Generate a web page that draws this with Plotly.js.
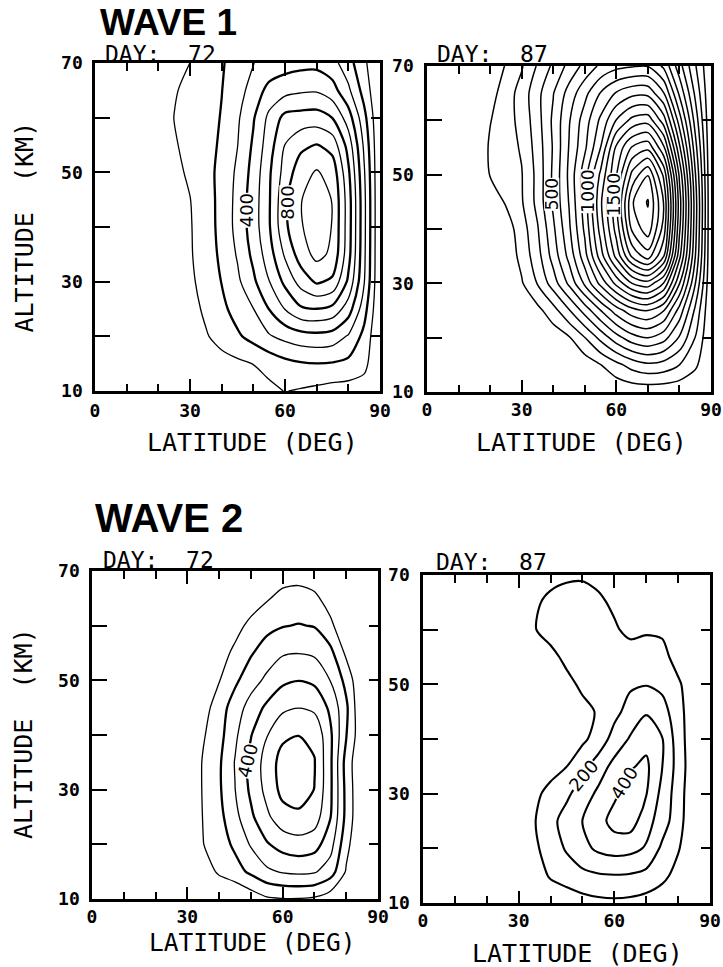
<!DOCTYPE html>
<html>
<head>
<meta charset="utf-8">
<script src="https://cdn.plot.ly/plotly-3.0.1.min.js"></script>
<style>
  html, body { margin: 0; padding: 0; background: #fff; }
  #chart { width: 723px; height: 967px; }
</style>
</head>
<body>
<div id="chart"></div>
<script>
// Grid of the amplitude fields: latitude (deg) across, altitude (km) down the rows.
const LAT = [0, 5, 10, 15, 20, 25, 30, 35, 40, 45, 50, 55, 60, 65, 70, 75, 80, 85, 90];
const ALT = [10, 15, 20, 25, 30, 35, 40, 45, 50, 55, 60, 65, 70];

// Wave 1, day 72 (rows: altitude 10 -> 70 km)
const WAVE1_DAY72 = [
  [0,0,0,0,0,0,0,0,0,10,40,75,103,90,75,60,55,50,20],
  [0,0,0,0,0,0,20,40,60,80,102,135,170,190,198,192,175,130,0],
  [0,0,0,0,0,0,30,90,140,185,235,290,330,360,370,355,290,170,0],
  [0,0,0,0,0,10,60,120,175,240,298,402,503,585,598,570,450,240,0],
  [0,0,0,0,0,20,80,140,203,280,380,497,625,740,815,780,580,305,0],
  [0,0,0,0,0,25,90,150,220,310,425,555,715,850,930,880,640,320,0],
  [0,0,0,0,0,25,92,156,229,332,450,590,780,890,960,895,650,325,0],
  [0,0,0,0,0,30,97,158,230,330,450,590,780,895,958,895,650,325,0],
  [0,0,0,0,0,60,125,170,225,320,435,585,740,860,910,860,620,310,0],
  [0,0,0,0,0,90,130,165,215,298,415,555,702,775,805,760,560,280,0],
  [0,0,0,0,10,102,135,165,205,285,390,525,630,640,645,598,450,230,0],
  [0,0,0,0,20,90,130,165,198,255,345,430,465,485,490,440,320,160,0],
  [0,0,0,0,0,50,100.5,150,190,245,298,335,355,368,370,335,240,120,0]
];

// Wave 1, day 87
const WAVE1_DAY87 = [
  [0,0,0,0,0,0,0,0,0,0,0,0,20,30,30,30,25,10,0],
  [0,0,0,0,0,0,0,0,0,0,40,98,170,240,280,260,200,120,0],
  [0,0,0,0,0,0,0,0,40,90,198,330,460,560,600,540,390,198,0],
  [0,0,0,0,0,0,0,70,160,290,440,598,750,860,900,805,560,280,0],
  [0,0,0,0,0,10,90,205,350,520,720,930,1130,1300,1360,1195,805,405,0],
  [0,0,0,0,0,30,130,260,440,630,860,1150,1430,1720,1850,1605,1030,505,0],
  [0,0,0,0,0,50,150,290,480,680,920,1240,1540,1920,2060,1760,1120,540,0],
  [0,0,0,0,40,110,190,330,520,705,950,1280,1570,1990,2110,1795,1150,550,0],
  [0,0,0,0,105,150,195,330,520,720,960,1220,1495,1830,1995,1680,1080,510,0],
  [0,0,0,0,115,160,210,345,510,705,880,1100,1420,1610,1670,1420,920,440,0],
  [0,0,0,0,95,160,230,360,520,690,850,1020,1205,1330,1360,1150,750,360,0],
  [0,0,0,0,60,150,240,370,495,640,770,905,1010,1070,1070,905,580,280,0],
  [0,0,0,0,0,110,190,310,420,530,630,720,770,790,795,680,440,210,0]
];

// Wave 2, day 72
const WAVE2_DAY72 = [
  [0,0,0,0,0,0,0,0,0,0,40,85,95,95,85,40,0,0,0],
  [0,0,0,0,0,0,0,50,115,160,220,280,310,320,310,250,90,0,0],
  [0,0,0,0,0,0,0,98,150,220,310,390,440,460,440,340,130,0,0],
  [0,0,0,0,0,0,0,105,170,270,380,480,560,580,550,405,170,0,0],
  [0,0,0,0,0,0,0,110,185,298,420,530,630,645,598,420,170,0,0],
  [0,0,0,0,0,0,0,110,185,305,430,540,640,655,605,420,160,0,0],
  [0,0,0,0,0,0,0,90,165,280,395,495,580,598,580,420,205,20,0],
  [0,0,0,0,0,0,0,60,150,250,340,420,480,498,480,380,220,0,0],
  [0,0,0,0,0,0,0,0,95,180,260,320,380,398,380,298,170,0,0],
  [0,0,0,0,0,0,0,0,50,125,190,250,290,298,285,230,80,0,0],
  [0,0,0,0,0,0,0,0,0,60,130,170,195,205,195,120,30,0,0],
  [0,0,0,0,0,0,0,0,0,0,40,90,130,135,120,60,0,0,0],
  [0,0,0,0,0,0,0,0,0,0,0,20,50,60,40,10,0,0,0]
];

// Wave 2, day 87
const WAVE2_DAY87 = [
  [0,0,0,0,0,0,0,0,0,30,60,75,80,75,60,30,0,0,0],
  [0,0,0,0,0,0,0,30,115,150,175,190,195,190,170,130,60,0,0],
  [0,0,0,0,0,0,0,80,150,210,270,320,340,330,290,180,110,10,0],
  [0,0,0,0,0,0,0,95,170,240,302,360,440,450,340,250,140,20,0],
  [0,0,0,0,0,0,0,70,140,180,250,320,380,450,405,270,150,20,0],
  [0,0,0,0,0,0,0,0,50,98,170,250,330,390,420,302,160,30,0],
  [0,0,0,0,0,0,0,0,10,40,80,140,240,310,370,305,150,30,0],
  [0,0,0,0,0,0,0,0,0,30,70,110,170,240,290,240,140,30,0],
  [0,0,0,0,0,0,0,0,0,70,120,140,160,185,195,175,120,20,0],
  [0,0,0,0,0,0,0,0,70,125,140,145,150,155,160,140,50,0,0],
  [0,0,0,0,0,0,0,95,140,160,155,135,115,70,85,80,20,0,0],
  [0,0,0,0,0,0,0,80,130,150,150,120,80,40,20,0,0,0,0],
  [0,0,0,0,0,0,0,20,60,80,85,70,30,0,0,0,0,0,0]
];

// Contour level sets: [start, end, step]
const W1D72_THIN  = [100, 900, 200];
const W1D72_THICK = [200, 800, 200];
const W1D87_ALL   = [100, 2100, 100];
const W2D72_THIN  = [100, 500, 200];
const W2D72_THICK = [200, 600, 200];
const W2D87_ALL   = [100, 400, 100];

// Labelled levels and the altitude (km) at which each label sits on its line
const W1D72_LABELS = [400, 800];
const W1D72_LABEL_ALT = [43, 44.4];
const W1D87_LABELS = [500, 1000, 1500];
const W1D87_LABEL_ALT = [46.3, 46.9, 46.3];
const W2D72_LABELS = [400];
const W2D72_LABEL_ALT = [35.4];
const W2D87_LABELS = [200, 400];
const W2D87_LABEL_ALT = [33.4, 31.9];

const X_TICKS = [0, 30, 60, 90];
const X_MINOR = [10, 20, 40, 50, 70, 80];
const Y_TICKS = [10, 20, 30, 40, 50, 60, 70];
const Y_TEXT  = ['10', '', '30', '', '50', '', '70'];

const W = 723, H = 967;
const MONO = 'DejaVu Sans Mono';

function px2x(p) { return p / W; }
function px2y(p) { return 1 - p / H; }

function contour(z, lv, width, xa, ya) {
  return {
    type: 'contour', x: LAT, y: ALT, z: z,
    xaxis: xa, yaxis: ya,
    autocontour: false, showscale: false, hoverinfo: 'skip',
    contours: { coloring: 'none', start: lv[0], end: lv[1], size: lv[2], showlabels: false },
    line: { color: '#000', width: width, smoothing: 0.8 }
  };
}

// latitude where a level is first reached, scanning the field from the equator at a given altitude
function crossingLat(z, level, alt) {
  let i = 0;
  while (i < ALT.length - 2 && ALT[i + 1] < alt) i++;
  const f = (alt - ALT[i]) / (ALT[i + 1] - ALT[i]);
  const row = z[i].map((v, j) => v + (z[i + 1][j] - v) * f);
  for (let j = 0; j < LAT.length - 1; j++) {
    if (row[j] < level && row[j + 1] >= level) {
      return LAT[j] + (LAT[j + 1] - LAT[j]) * (level - row[j]) / (row[j + 1] - row[j]);
    }
  }
  return null;
}

// plot boxes in pixels: [left, top, right, bottom]
const panels = [
  { z: WAVE1_DAY72, box: [95, 63, 380, 391], xstand: 2, ystand: 6,
    sets: [[W1D72_THIN, 1.3], [W1D72_THICK, 2.3]],
    labels: W1D72_LABELS, labelAlt: W1D72_LABEL_ALT, angles: [-90, -90], lsize: 18 },
  { z: WAVE1_DAY87, box: [427, 66, 711, 392], xstand: 0, ystand: 7,
    sets: [[W1D87_ALL, 1.5]],
    labels: W1D87_LABELS, labelAlt: W1D87_LABEL_ALT, angles: [-90, -90, -90], lsize: 17 },
  { z: WAVE2_DAY72, box: [92, 571, 378, 899], xstand: 0, ystand: 6,
    sets: [[W2D72_THIN, 1.3], [W2D72_THICK, 2.3]],
    labels: W2D72_LABELS, labelAlt: W2D72_LABEL_ALT, angles: [-76], lsize: 18 },
  { z: WAVE2_DAY87, box: [423, 575, 710, 903], xstand: 0, ystand: 7,
    sets: [[W2D87_ALL, 2.1]],
    labels: W2D87_LABELS, labelAlt: W2D87_LABEL_ALT, angles: [-50, -58], lsize: 18 }
];

const data = [];
const layout = {
  width: W, height: H,
  margin: { l: 0, r: 0, t: 0, b: 0, pad: 0 },
  paper_bgcolor: '#fff', plot_bgcolor: '#fff',
  showlegend: false,
  font: { family: MONO, color: '#000' },
  annotations: []
};

const tickFont = { family: MONO, size: 18, weight: 'bold', color: '#000' };

panels.forEach((p, i) => {
  const n = i + 1, m = i + 5;
  const [l, t, r, b] = p.box;

  layout['xaxis' + n] = {
    domain: [px2x(l), px2x(r)], anchor: 'y' + n, range: [0, 90], fixedrange: true,
    tickmode: 'array', tickvals: X_TICKS, ticks: 'inside', ticklen: 12, tickwidth: 2.2,
    tickcolor: '#000', tickfont: tickFont, ticklabelstandoff: p.xstand,
    minor: { tickmode: 'array', tickvals: X_MINOR, ticks: 'inside', ticklen: 7, tickwidth: 2, tickcolor: '#000' },
    showline: true, linewidth: 2.6, linecolor: '#000', mirror: true,
    showgrid: false, zeroline: false
  };
  layout['xaxis' + m] = {
    overlaying: 'x' + n, side: 'top', anchor: 'y' + n, range: [0, 90], fixedrange: true,
    tickmode: 'array', tickvals: X_TICKS, ticks: 'inside', ticklen: 13, tickwidth: 2.2, tickcolor: '#000',
    minor: { tickmode: 'array', tickvals: X_MINOR, ticks: 'inside', ticklen: 8, tickwidth: 2, tickcolor: '#000' },
    showticklabels: false, showline: false, showgrid: false, zeroline: false
  };
  layout['yaxis' + n] = {
    domain: [px2y(b), px2y(t)], anchor: 'x' + n, range: [10, 70], fixedrange: true,
    tickmode: 'array', tickvals: Y_TICKS, ticktext: Y_TEXT, ticks: 'inside', ticklen: 15, tickwidth: 2.2,
    tickcolor: '#000', tickfont: tickFont, ticklabelstandoff: p.ystand,
    showline: true, linewidth: 2.6, linecolor: '#000', mirror: true,
    showgrid: false, zeroline: false
  };
  layout['yaxis' + m] = {
    overlaying: 'y' + n, side: 'right', anchor: 'x' + n, range: [10, 70], fixedrange: true,
    tickmode: 'array', tickvals: Y_TICKS.slice(1, -1), ticks: 'inside', ticklen: 9, tickwidth: 2.2, tickcolor: '#000',
    showticklabels: false, showline: false, showgrid: false, zeroline: false
  };

  p.sets.forEach((s, k) => {
    const onOverlay = k === 0;
    data.push(contour(p.z, s[0], s[1], onOverlay ? 'x' + m : 'x' + n, onOverlay ? 'y' + m : 'y' + n));
  });

  // contour value labels, set on their own line with a white backing that breaks the line
  p.labels.forEach((lev, k) => {
    const alt = p.labelAlt[k];
    const lat = crossingLat(p.z, lev, alt);
    if (lat === null) return;
    layout.annotations.push({
      text: String(lev), xref: 'x' + n, yref: 'y' + n, x: lat, y: alt,
      xanchor: 'center', yanchor: 'middle', showarrow: false, textangle: p.angles[k],
      bgcolor: '#fff', borderpad: 0, height: Math.round(p.lsize * 0.82),
      font: { family: 'DejaVu Sans', size: p.lsize, color: '#000' }
    });
  });
});

function note(text, x, y, size, opts) {
  layout.annotations.push(Object.assign({
    text: text, xref: 'paper', yref: 'paper', x: px2x(x), y: px2y(y),
    xanchor: 'left', yanchor: 'middle', showarrow: false,
    font: { family: MONO, size: size, color: '#000' }
  }, opts || {}));
}

// panel headings
note('WAVE 1', 98, 22.5, 37, { font: { family: 'Liberation Sans', size: 37, weight: 'bold', color: '#000' } });
note('WAVE 2', 93, 518, 40, { font: { family: 'Liberation Sans', size: 40, weight: 'bold', color: '#000' } });
note('DAY:  72', 103, 54, 23);
note('DAY:  87', 435, 54, 23);
note('DAY:  72', 101, 560, 23);
note('DAY:  87', 434, 562, 23);

// axis titles
note('LATITUDE (DEG)', 252, 442.5, 25, { xanchor: 'center' });
note('LATITUDE (DEG)', 581, 442.5, 25, { xanchor: 'center' });
note('LATITUDE (DEG)', 252, 942, 24.5, { xanchor: 'center' });
note('LATITUDE (DEG)', 577, 953, 25, { xanchor: 'center' });
note('ALTITUDE  (KM)', 24, 227.5, 25, { xanchor: 'center', textangle: -90 });
note('ALTITUDE  (KM)', 23, 734, 25, { xanchor: 'center', textangle: -90 });

Plotly.newPlot('chart', data, layout, { staticPlot: true, displayModeBar: false });
</script>
</body>
</html>
